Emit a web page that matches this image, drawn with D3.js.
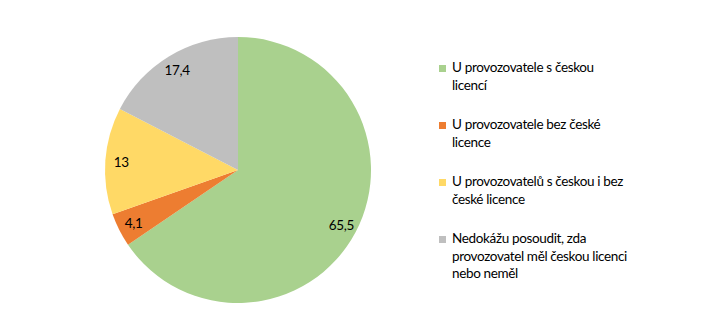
<!DOCTYPE html>
<html>
<head>
<meta charset="utf-8">
<script src="https://cdn.jsdelivr.net/npm/d3@7"></script>
<style>
  body { margin: 0; background: #fff; }
  text { font-family: Lato, "Open Sans", sans-serif; fill: #000; }
</style>
</head>
<body>
<svg id="chart" width="716" height="332"></svg>
<script>
// categories, values and legend text
const categories = [
  'U provozovatele s českou licencí',
  'U provozovatele bez české licence',
  'U provozovatelů s českou i bez české licence',
  'Nedokážu posoudit, zda provozovatel měl českou licenci nebo neměl'
];
const values = [65.5, 4.1, 13, 17.4];
const valueLabels = ['65,5', '4,1', '13', '17,4'];
const legendLines = [
  ['U provozovatele s českou', 'licencí'],
  ['U provozovatele bez české', 'licence'],
  ['U provozovatelů s českou i bez', 'české licence'],
  ['Nedokážu posoudit, zda', 'provozovatel měl českou licenci', 'nebo neměl']
];
const colors = ['#a9d18e', '#ed7d31', '#ffd966', '#bfbfbf'];

const svg = d3.select('#chart');
const cx = 238, cy = 170, radius = 133;

const color = d3.scaleOrdinal().domain(categories).range(colors);

const pie = d3.pie().sort(null).value((d) => d.value);
const arcs = pie(categories.map((c, i) => ({ cat: c, value: values[i], label: valueLabels[i] })));

const arc = d3.arc().innerRadius(0).outerRadius(radius);
// labels sit near the rim, inside the slice
const labelArc = d3.arc().innerRadius(radius * 0.88).outerRadius(radius * 0.88);

const g = svg.append('g').attr('transform', `translate(${cx},${cy})`);

g.selectAll('path')
  .data(arcs)
  .enter().append('path')
  .attr('d', arc)
  .attr('fill', (d) => color(d.data.cat));

g.selectAll('text.val')
  .data(arcs)
  .enter().append('text')
  .attr('class', 'val')
  .attr('transform', (d) => `translate(${labelArc.centroid(d)})`)
  .attr('text-anchor', 'middle')
  .attr('dy', '0.35em')
  .style('font-size', '13.5px')
  .style('letter-spacing', '-0.3px')
  .text((d) => d.data.label);

// legend
const legendX = 439, legendY = 72, entryGap = 57, lineHeight = 17.5;
const legend = svg.append('g').attr('transform', `translate(${legendX},${legendY})`);

const item = legend.selectAll('g')
  .data(categories)
  .enter().append('g')
  .attr('transform', (d, i) => `translate(0,${i * entryGap})`);

item.append('rect')
  .attr('x', 0)
  .attr('y', -7)
  .attr('width', 7)
  .attr('height', 7)
  .attr('fill', (d) => color(d));

item.append('text')
  .style('font-size', '13.5px')
  .style('letter-spacing', '-0.35px')
  .each(function (d, i) {
    const t = d3.select(this);
    legendLines[i].forEach((line, j) => {
      t.append('tspan').attr('x', 13).attr('y', j * lineHeight).text(line);
    });
  });
</script>
</body>
</html>
